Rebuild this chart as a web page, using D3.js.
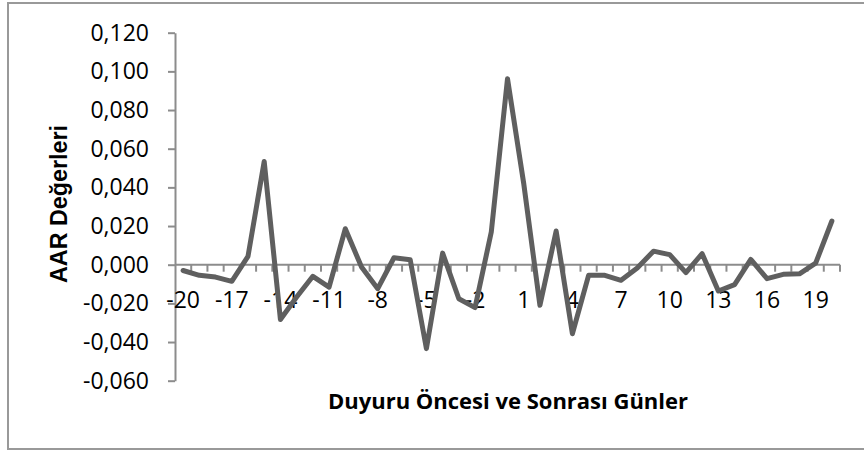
<!DOCTYPE html>
<html>
<head>
<meta charset="utf-8">
<script src="https://cdn.jsdelivr.net/npm/d3@7"></script>
<style>
  body { margin: 0; background: #fff; }
  svg { display: block; }
</style>
</head>
<body>
<div class="visHolder"></div>
<script>
const w = 864;
const h = 452;

// event window days (categories)
const days = [-20, -19, -18, -17, -16, -15, -14, -13, -12, -11, -10, -9, -8, -7, -6, -5, -4, -3, -2, -1,
  0, 1, 2, 3, 4, 5, 6, 7, 8, 9, 10, 11, 12, 13, 14, 15, 16, 17, 18, 19, 20];

// average abnormal returns
const aar = [-0.0030, -0.0055, -0.0064, -0.0086, 0.0043, 0.0534, -0.0283, -0.0167, -0.0060, -0.0116,
  0.0186, -0.0012, -0.0124, 0.0036, 0.0026, -0.0434, 0.0060, -0.0176, -0.0222, 0.0169,
  0.0962, 0.0420, -0.0210, 0.0174, -0.0357, -0.0055, -0.0055, -0.0081, -0.0017, 0.0070,
  0.0052, -0.0041, 0.0057, -0.0136, -0.0103, 0.0027, -0.0072, -0.0050, -0.0047, 0.0008, 0.0226];

const xTickLabels = [-20, -17, -14, -11, -8, -5, -2, 1, 4, 7, 10, 13, 16, 19];
const yTicks = [-0.06, -0.04, -0.02, 0, 0.02, 0.04, 0.06, 0.08, 0.10, 0.12];

const xTitle = 'Duyuru Öncesi ve Sonrası Günler';
const yTitle = 'AAR Değerleri';

const trLocale = d3.formatLocale({ decimal: ',', thousands: '.', grouping: [3], currency: ['', ''], minus: '-' });
const fmt = trLocale.format('.3f');

var svg = d3.select('.visHolder')
  .append('svg')
  .attr('width', w)
  .attr('height', h);

// chart area frame
svg.append('rect')
  .attr('x', 8)
  .attr('y', 3)
  .attr('width', 870)
  .attr('height', 446)
  .attr('fill', '#fff')
  .attr('stroke', '#999')
  .attr('stroke-width', 2);

const xScale = d3.scaleBand()
  .domain(days)
  .range([175, 840])
  .padding(0);

const yScale = d3.scaleLinear()
  .domain([-0.06, 0.12])
  .range([380.7, 32.7]);

// y axis
const yAxis = d3.axisLeft(yScale)
  .tickValues(yTicks)
  .tickFormat(fmt)
  .tickSize(7)
  .tickSizeOuter(0)
  .tickPadding(19);

const gy = svg.append('g')
  .attr('transform', 'translate(175,0)')
  .call(yAxis)
  .attr('id', 'y-axis');
gy.select('.domain').attr('stroke', '#8c8c8c').attr('stroke-width', 2);
gy.selectAll('.tick line').attr('stroke', '#8c8c8c').attr('stroke-width', 2);
gy.selectAll('.tick text')
  .attr('fill', '#000')
  .style('font-family', '"Open Sans", sans-serif')
  .style('font-size', '23px');

// x axis on the zero line
const y0 = yScale(0);
svg.append('line')
  .attr('x1', 175).attr('x2', 840)
  .attr('y1', y0).attr('y2', y0)
  .attr('stroke', '#8c8c8c')
  .attr('stroke-width', 2);

const boundaries = days.map(d => xScale(d)).concat([xScale(days[days.length - 1]) + xScale.bandwidth()]);
svg.append('g')
  .selectAll('line')
  .data(boundaries.slice(1))
  .enter()
  .append('line')
  .attr('x1', d => d).attr('x2', d => d)
  .attr('y1', y0).attr('y2', y0 + 7)
  .attr('stroke', '#8c8c8c')
  .attr('stroke-width', 2);

const xAxis = d3.axisBottom(xScale)
  .tickValues(xTickLabels)
  .tickSize(0)
  .tickPadding(27);

const gx = svg.append('g')
  .attr('transform', 'translate(0,' + y0 + ')')
  .call(xAxis)
  .attr('id', 'x-axis');
gx.select('.domain').remove();
gx.selectAll('.tick text')
  .attr('fill', '#000')
  .style('font-family', '"Open Sans", sans-serif')
  .style('font-size', '23px');

// series line
const line = d3.line()
  .x((d, i) => xScale(days[i]) + xScale.bandwidth() / 2)
  .y(d => yScale(d));

svg.append('path')
  .datum(aar)
  .attr('d', line)
  .attr('fill', 'none')
  .attr('stroke', '#5f5f5f')
  .attr('stroke-width', 5)
  .attr('stroke-linejoin', 'round')
  .attr('stroke-linecap', 'round');

// titles
svg.append('text')
  .attr('x', 508)
  .attr('y', 409)
  .attr('text-anchor', 'middle')
  .attr('textLength', 360)
  .attr('lengthAdjust', 'spacingAndGlyphs')
  .style('font-family', '"Open Sans", sans-serif')
  .style('font-weight', 'bold')
  .style('font-size', '22px')
  .text(xTitle);

svg.append('text')
  .attr('transform', 'translate(67,204) rotate(-90)')
  .attr('text-anchor', 'middle')
  .attr('textLength', 158)
  .attr('lengthAdjust', 'spacingAndGlyphs')
  .style('font-family', '"Liberation Sans", Arial, sans-serif')
  .style('font-weight', 'bold')
  .style('font-size', '23px')
  .text(yTitle);
</script>
</body>
</html>
